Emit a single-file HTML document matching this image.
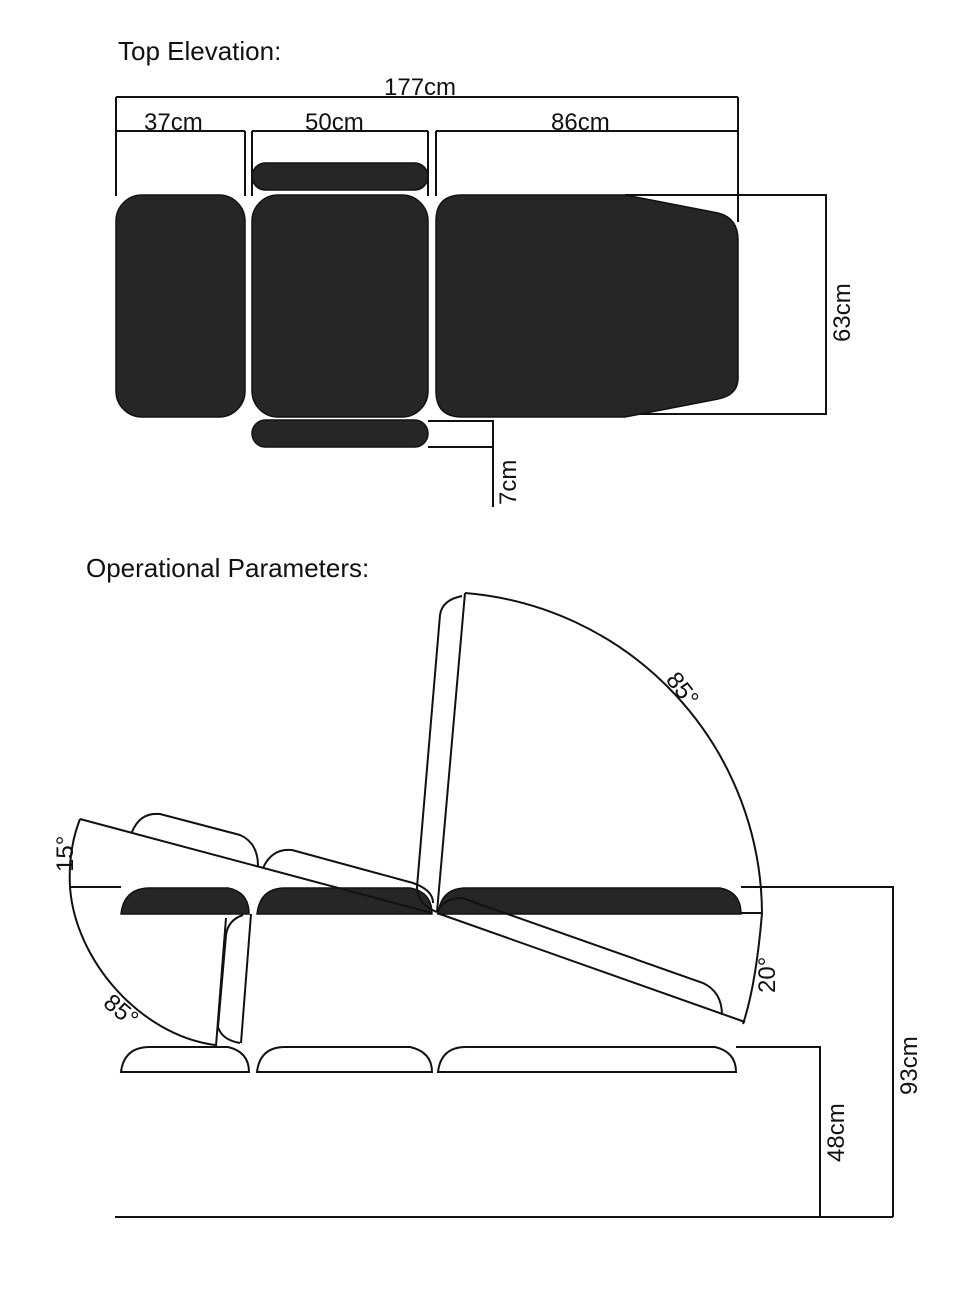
<!DOCTYPE html>
<html><head><style>
html,body{margin:0;padding:0;background:#fff;}
svg{display:block;}
text{font-family:"Liberation Sans",sans-serif;fill:#111;}
</style></head><body>
<svg width="979" height="1300" viewBox="0 0 979 1300" xmlns="http://www.w3.org/2000/svg">
<g stroke="#111" stroke-width="2" fill="none">
<line x1="116" y1="97" x2="738" y2="97"/>
<line x1="116" y1="97" x2="116" y2="196"/>
<line x1="738" y1="97" x2="738" y2="222"/>
<line x1="116" y1="131" x2="245" y2="131"/>
<line x1="245" y1="131" x2="245" y2="196"/>
<line x1="252" y1="131" x2="428" y2="131"/>
<line x1="252" y1="131" x2="252" y2="196"/>
<line x1="428" y1="131" x2="428" y2="196"/>
<line x1="436" y1="131" x2="738" y2="131"/>
<line x1="436" y1="131" x2="436" y2="196"/>
<line x1="625" y1="195" x2="827" y2="195"/>
<line x1="625" y1="414" x2="827" y2="414"/>
<line x1="826" y1="195" x2="826" y2="414"/>
<line x1="428" y1="421" x2="494" y2="421"/>
<line x1="428" y1="447" x2="494" y2="447"/>
<line x1="493" y1="421" x2="493" y2="507"/>
</g>
<g fill="#262626" stroke="#111" stroke-width="1.5">
<rect x="116" y="195" width="129" height="222" rx="26"/>
<rect x="252" y="195" width="176" height="222" rx="26"/>
<rect x="252" y="163" width="176" height="27" rx="13.5"/>
<rect x="252" y="420" width="176" height="27" rx="13.5"/>
<path d="M462,195 L625,195 L718,213 Q738,218 738,240 L738,378 Q738,395 718,399 L625,417 L462,417 Q436,417 436,391 L436,221 Q436,195 462,195 Z"/>
</g>
<text x="118" y="60" font-size="26" style="font-weight:300">Top Elevation:</text>
<text x="384" y="95" font-size="24">177cm</text>
<text x="144" y="130" font-size="24">37cm</text>
<text x="305" y="130" font-size="24">50cm</text>
<text x="551" y="130" font-size="24">86cm</text>
<text transform="translate(850,342) rotate(-90)" font-size="24">63cm</text>
<text transform="translate(516,505) rotate(-90)" font-size="24">7cm</text>

<text x="86" y="577" font-size="26">Operational Parameters:</text>

<g fill="#262626" stroke="#111" stroke-width="1.5">
<path d="M121,914 Q124,888 150,888 L228,888 Q249,892 249,914 Z"/>
<path d="M257,914 Q260,888 285,888 L410,888 Q432,892 432,914 Z"/>
<path d="M438,914 Q441,888 466,888 L720,888 Q741,892 741,914 Z"/>
</g>
<g fill="#fff" stroke="#111" stroke-width="2">
<path d="M121,1072 Q124,1047 150,1047 L228,1047 Q249,1052 249,1072 Z"/>
<path d="M257,1072 Q260,1047 285,1047 L410,1047 Q432,1052 432,1072 Z"/>
<path d="M438,1072 Q441,1047 466,1047 L715,1047 Q736,1052 736,1072 Z"/>
</g>
<g stroke="#111" stroke-width="2" fill="none">
<line x1="70" y1="887" x2="121" y2="887"/>
<line x1="741" y1="887" x2="894" y2="887"/>
<line x1="741" y1="913" x2="762" y2="913"/>
<line x1="736" y1="1047" x2="821" y2="1047"/>
<line x1="893" y1="887" x2="893" y2="1217"/>
<line x1="820" y1="1047" x2="820" y2="1217"/>
<line x1="115" y1="1217" x2="893" y2="1217"/>
<line x1="80" y1="819" x2="432" y2="913"/>
<path d="M80,819 Q68,850 70,887 C75,960 140,1035 215,1045"/>
<path d="M132,832 Q140,812 160,814 L240,835 Q258,843 258,866"/>
<path d="M263,868 Q272,848 292,850 L413,883 Q433,890 433,903"/>
<line x1="251" y1="914" x2="241" y2="1043"/>
<line x1="226" y1="918" x2="216" y2="1046"/>
<path d="M243,915 Q228,920 226,935 L218,1027 Q222,1040 240,1043"/>
<line x1="465" y1="593" x2="437" y2="912"/>
<path d="M462,596 Q442,600 440,615 L417,887 Q418,905 437,912"/>
<path d="M465,593 A323,323 0 0 1 762,913"/>
<line x1="437" y1="913" x2="745" y2="1022"/>
<path d="M762,913 Q756,985 743,1024"/>
<path d="M462,898 L703,983 Q722,992 722,1015"/>
<path d="M437,912 Q444,898 462,898"/>
</g>
<text transform="translate(73,872) rotate(-90)" font-size="24">15°</text>
<text transform="translate(665,680) rotate(52)" font-size="24">85°</text>
<text transform="translate(102,1005) rotate(40)" font-size="24">85°</text>
<text transform="translate(775,993) rotate(-90)" font-size="24">20°</text>
<text transform="translate(917,1095) rotate(-90)" font-size="24">93cm</text>
<text transform="translate(844,1162) rotate(-90)" font-size="24">48cm</text>
</svg>
</body></html>
